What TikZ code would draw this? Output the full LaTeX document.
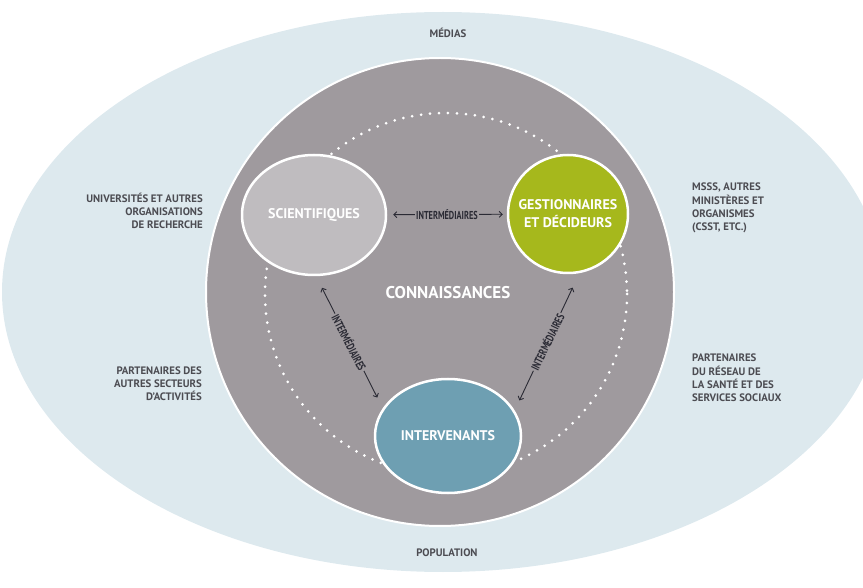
\documentclass[tikz,border=0pt]{standalone}
\usepackage{fontspec}
\setmainfont{PT Sans}
\newfontfamily\condfont[FakeStretch=0.72]{PT Sans}
\usetikzlibrary{arrows.meta,shapes.geometric}

\definecolor{mediablue}{HTML}{DDE9EE}
\definecolor{knowgray}{HTML}{9F9A9E}
\definecolor{scigray}{HTML}{BFBCBF}
\definecolor{gestgreen}{HTML}{A6B81C}
\definecolor{intblue}{HTML}{6E9FB2}
\definecolor{labelgray}{HTML}{4C4C52}
\definecolor{arrowink}{HTML}{2A2A34}

\begin{document}
\begin{tikzpicture}[x=1pt,y=-1pt,>={Straight Barb[length=3pt,width=6pt]},
  actor/.style={ellipse,draw=white,line width=2.5pt,inner sep=0pt},
  actor text/.style={text=white,font=\bfseries\fontsize{14}{18}\selectfont,align=center},
  outer label/.style={text=labelgray,inner sep=0pt,font=\bfseries\fontsize{10.8}{13.2}\selectfont},
  link/.style={<->,draw=arrowink,line width=0.9pt},
  link label/.style={fill=knowgray,text=arrowink,inner sep=1.2pt,font=\condfont\bfseries\fontsize{11.5}{12}\selectfont}]
\useasboundingbox (0,0) rectangle (863,588);
\clip (0,0) rectangle (863,588);

% Outer ring and knowledge disc
\fill[mediablue] (443,292) ellipse [x radius=441,y radius=280];
\filldraw[fill=knowgray,draw=white,line width=2pt] (440,292) circle [radius=234];
\draw[white,line width=3pt,line cap=round,dash pattern=on 0pt off 9pt] (446,294) circle [radius=181];
\node[text=white,font=\bfseries\fontsize{17}{20}\selectfont] (know) at (448,293) {CONNAISSANCES};

% === Actors ===
\node[actor,fill=scigray,minimum width=144pt,minimum height=120pt,
  label={[actor text,name=scitext]center:SCIENTIFIQUES}] (sci) at (314,215) {};
\node[actor,fill=gestgreen,minimum width=120pt,minimum height=118pt,
  label={[actor text,name=gesttext]center:GESTIONNAIRES\\ET DÉCIDEURS}] (gest) at (568,214) {};
\node[actor,fill=intblue,minimum width=146pt,minimum height=114pt,
  label={[actor text,name=inttext]center:INTERVENANTS}] (int) at (448,436) {};

% Intermediaries between actors
\draw[link,shorten <=6pt,shorten >=4pt] (sci) -- (gest)
  node[midway,link label] (midtop) {INTERMÉDIAIRES};
\draw[link,shorten <=13pt,shorten >=12pt] (sci.-88) -- (int.157)
  node[midway,link label,rotate=-63] (midleft) {INTERMÉDIAIRES};
\draw[link,shorten <=16pt,shorten >=11pt] (gest.-79) -- (int.21)
  node[midway,link label,rotate=64] (midright) {INTERMÉDIAIRES};

% Surrounding partners
\node[outer label] (medias) at (448,33) {MÉDIAS};
\node[outer label] (pop) at (447,553) {POPULATION};
\node[outer label,anchor=east,align=right] (univ) at (203,211) {UNIVERSITÉS ET AUTRES\\ORGANISATIONS\\DE RECHERCHE};
\node[outer label,anchor=east,align=right] (sect) at (202,384) {PARTENAIRES DES\\AUTRES SECTEURS\\D’ACTIVITÉS};
\node[outer label,anchor=west,align=left] (msss) at (692,208) {MSSS, AUTRES\\MINISTÈRES ET\\ORGANISMES\\(CSST, ETC.)};
\node[outer label,anchor=west,align=left] (rss) at (692,378) {PARTENAIRES\\DU RÉSEAU DE\\LA SANTÉ ET DES\\SERVICES SOCIAUX};
\end{tikzpicture}
\end{document}
